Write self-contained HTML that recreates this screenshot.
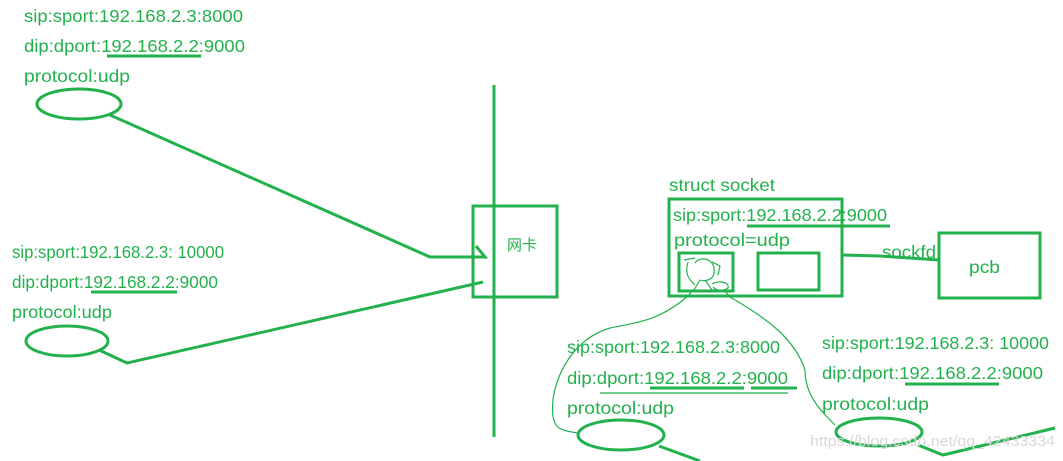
<!DOCTYPE html>
<html><head><meta charset="utf-8"><style>
html,body{margin:0;padding:0;background:#fff;}
svg{display:block;}
text{font-family:"Liberation Sans","Noto Sans CJK SC",sans-serif;font-size:17.5px;fill:#22b14c;}
</style></head><body>
<svg width="1063" height="461" viewBox="0 0 1063 461" xmlns="http://www.w3.org/2000/svg">
<g fill="none" stroke="#22b14c" stroke-width="3">
<line x1="107" y1="56" x2="201" y2="56"/>
<ellipse cx="79" cy="104" rx="42" ry="15"/>
<polyline points="110,115 430,257 485,257 476,246"/>
<line x1="494" y1="85" x2="494" y2="437"/>
<rect x="473" y="206" width="84" height="91"/>
<line x1="91" y1="292" x2="177" y2="292"/>
<ellipse cx="67" cy="341" rx="41" ry="15"/>
<polyline points="99,350 127,363 483,282"/>
<rect x="669" y="199" width="173" height="97"/>
<line x1="747" y1="226" x2="890" y2="226"/>
<rect x="679" y="253" width="54" height="38"/>
<rect x="758" y="253" width="61" height="37"/>
<polyline points="842,255 880,256 939,260"/>
<rect x="939" y="233" width="101" height="65"/>
<line x1="650" y1="388" x2="744" y2="388"/>
<line x1="751" y1="388" x2="797" y2="388"/>
<ellipse cx="621" cy="435" rx="43" ry="15"/>
<line x1="659" y1="446" x2="700" y2="461"/>
<line x1="905" y1="384" x2="999" y2="384"/>
<ellipse cx="879" cy="432" rx="43" ry="14"/>
<polyline points="918,445 943,455 1055,428"/>
</g>
<g fill="none" stroke="#22b14c" stroke-width="1.2">
<line x1="600" y1="393" x2="788" y2="393"/>
<path d="M688,296 C660,320 640,322 610,328 C570,340 555,380 553,400 C550,430 560,430 578,433"/>
<path d="M730,297 C770,320 795,340 805,370 C805,395 820,410 835,425"/>
<path d="M684,260 L695,258 M688,262 C684,275 690,280 695,285 M695,263 C700,256 712,258 714,268 C716,280 705,282 700,280 M712,262 L720,266 L718,275 M700,280 L694,290 M705,280 L712,290 M712,284 C718,280 730,282 728,288 C722,292 715,290 713,287 M688,296 L693,290 M730,297 L724,290"/>
</g>
<text x="24" y="22" textLength="219" lengthAdjust="spacingAndGlyphs">sip:sport:192.168.2.3:8000</text>
<text x="24" y="52" textLength="221" lengthAdjust="spacingAndGlyphs">dip:dport:192.168.2.2:9000</text>
<text x="24" y="82" textLength="106" lengthAdjust="spacingAndGlyphs">protocol:udp</text>
<text x="12" y="258" textLength="212" lengthAdjust="spacingAndGlyphs">sip:sport:192.168.2.3: 10000</text>
<text x="12" y="288" textLength="206" lengthAdjust="spacingAndGlyphs">dip:dport:192.168.2.2:9000</text>
<text x="12" y="318" textLength="100" lengthAdjust="spacingAndGlyphs">protocol:udp</text>
<text x="507" y="250" style="font-size:15px">网卡</text>
<text x="669" y="191" textLength="106" lengthAdjust="spacingAndGlyphs">struct socket</text>
<text x="673" y="221" textLength="214" lengthAdjust="spacingAndGlyphs">sip:sport:192.168.2.2:9000</text>
<text x="674" y="246" textLength="116" lengthAdjust="spacingAndGlyphs">protocol=udp</text>
<text x="882" y="258" textLength="54" lengthAdjust="spacingAndGlyphs">sockfd</text>
<text x="969" y="273" textLength="31" lengthAdjust="spacingAndGlyphs">pcb</text>
<text x="567" y="353" textLength="213" lengthAdjust="spacingAndGlyphs">sip:sport:192.168.2.3:8000</text>
<text x="567" y="384" textLength="221" lengthAdjust="spacingAndGlyphs">dip:dport:192.168.2.2:9000</text>
<text x="567" y="414" textLength="107" lengthAdjust="spacingAndGlyphs">protocol:udp</text>
<text x="822" y="349" textLength="227" lengthAdjust="spacingAndGlyphs">sip:sport:192.168.2.3: 10000</text>
<text x="822" y="379" textLength="221" lengthAdjust="spacingAndGlyphs">dip:dport:192.168.2.2:9000</text>
<text x="822" y="410" textLength="107" lengthAdjust="spacingAndGlyphs">protocol:udp</text>
<text x="810" y="446" style="fill:#d8d8d8;font-size:15px" textLength="245" lengthAdjust="spacingAndGlyphs">https://blog.csdn.net/qq_42433334</text>
</svg>
</body></html>
